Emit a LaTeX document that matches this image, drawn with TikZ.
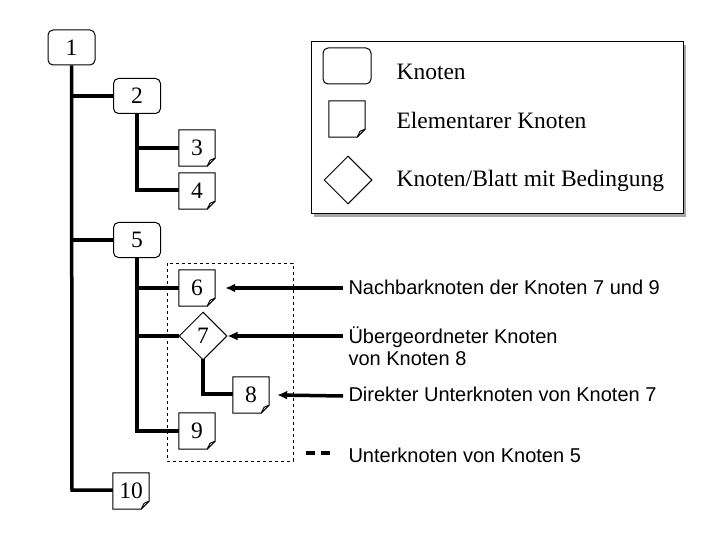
\documentclass[tikz,border=0pt]{standalone}
\usepackage{fontspec}
\setmainfont{Liberation Serif}
\newfontfamily\lsans{Liberation Sans}
\usetikzlibrary{shapes.geometric,arrows.meta}
\newcommand\docnode[3]{%
  \node[docbox] (#1) at (#2) {};
  \draw[thin,fill=white] ([yshift=8]#1.south east) -- (#1.north east) -- (#1.north west) -- (#1.south west) -- ([xshift=-8]#1.south east) -- cycle;
  \draw[thin] ([xshift=-8]#1.south east) -- ([xshift=-5,yshift=6]#1.south east) -- ([yshift=8]#1.south east);
  \node at (#1.center) {#3};
}
\begin{document}
\begin{tikzpicture}[x=1pt,y=-1pt,
  every node/.style={font=\fontsize{23.5}{26}\selectfont},
  knot/.style={draw,line width=1pt,rounded corners=5pt,minimum width=47,minimum height=35,inner sep=0},
  docbox/.style={minimum width=36,minimum height=36,inner sep=0},
  cond/.style={draw,line width=1pt,diamond,minimum width=48,minimum height=48,inner sep=0,fill=white},
  tree/.style={line width=3.5pt},
  lab/.style={font=\lsans\fontsize{20}{22}\selectfont,anchor=west,align=left},
  arr/.style={line width=3.5pt,-{Latex[length=10pt,width=9pt]}},
  thin/.style={line width=1pt}]
\useasboundingbox (0,0) rectangle (720,540);
% legend
\fill[gray!70] (314,45) rectangle (686,217);
\draw[thin,fill=white] (311,42) rectangle (683,214);
\node[knot,minimum width=48,minimum height=36] (lk) at (347,66) {};
\docnode{ld}{347,119}{}
\node[cond] (lc) at (348,180) {};
\node[anchor=west] (lt1) at (393,72) {Knoten};
\node[anchor=west] (lt2) at (393,120) {Elementarer Knoten};
\node[anchor=west] (lt3) at (393,181) {Knoten/Blatt mit Bedingung};
% dashed group
\draw[thin,dashed] (167,263) rectangle (293,461);
% nodes
\node[knot] (n1) at (71.5,47.5) {1};
\node[knot] (n2) at (137,96) {2};
\node[knot] (n5) at (137,240) {5};
\draw[tree] (n1.south) -- (72,490) -- (113,490);
\draw[tree] (72,96) -- (n2.west);
\draw[tree] (72,240) -- (n5.west);
\draw[tree] (n2.south) -- (137,190) -- (179,190);
\draw[tree] (137,148) -- (179,148);
\draw[tree] (n5.south) -- (137,431) -- (179,431);
\draw[tree] (137,288) -- (179,288);
\draw[tree] (137,336) -- (179,336);
\draw[tree] (203,358) -- (203,394) -- (233,394);
\docnode{n3}{197,148}{3}
\docnode{n4}{197,191}{4}
\docnode{n6}{197,288}{6}
\node[cond] (n7) at (203,336) {7};
\docnode{n8}{251,395}{8}
\docnode{n9}{197,431}{9}
\docnode{n10}{131,491}{10}
% annotations
\node[lab] (a1) at (345,287) {Nachbarknoten der Knoten 7 und 9};
\node[lab] (a2) at (345,346) {Übergeordneter Knoten\\von Knoten 8};
\node[lab] (a3) at (345,394) {Direkter Unterknoten von Knoten 7};
\node[lab] (a4) at (345,455) {Unterknoten von Knoten 5};
\draw[arr] (343,288) -- ([xshift=10]n6.east);
\draw[arr] (343,336) -- (n7.east);
\draw[arr] (343,396) -- ([xshift=8]n8.east);
\draw[line width=3.5pt,dash pattern=on 9pt off 6pt] (306,453) -- (336,453);
\end{tikzpicture}
\end{document}
